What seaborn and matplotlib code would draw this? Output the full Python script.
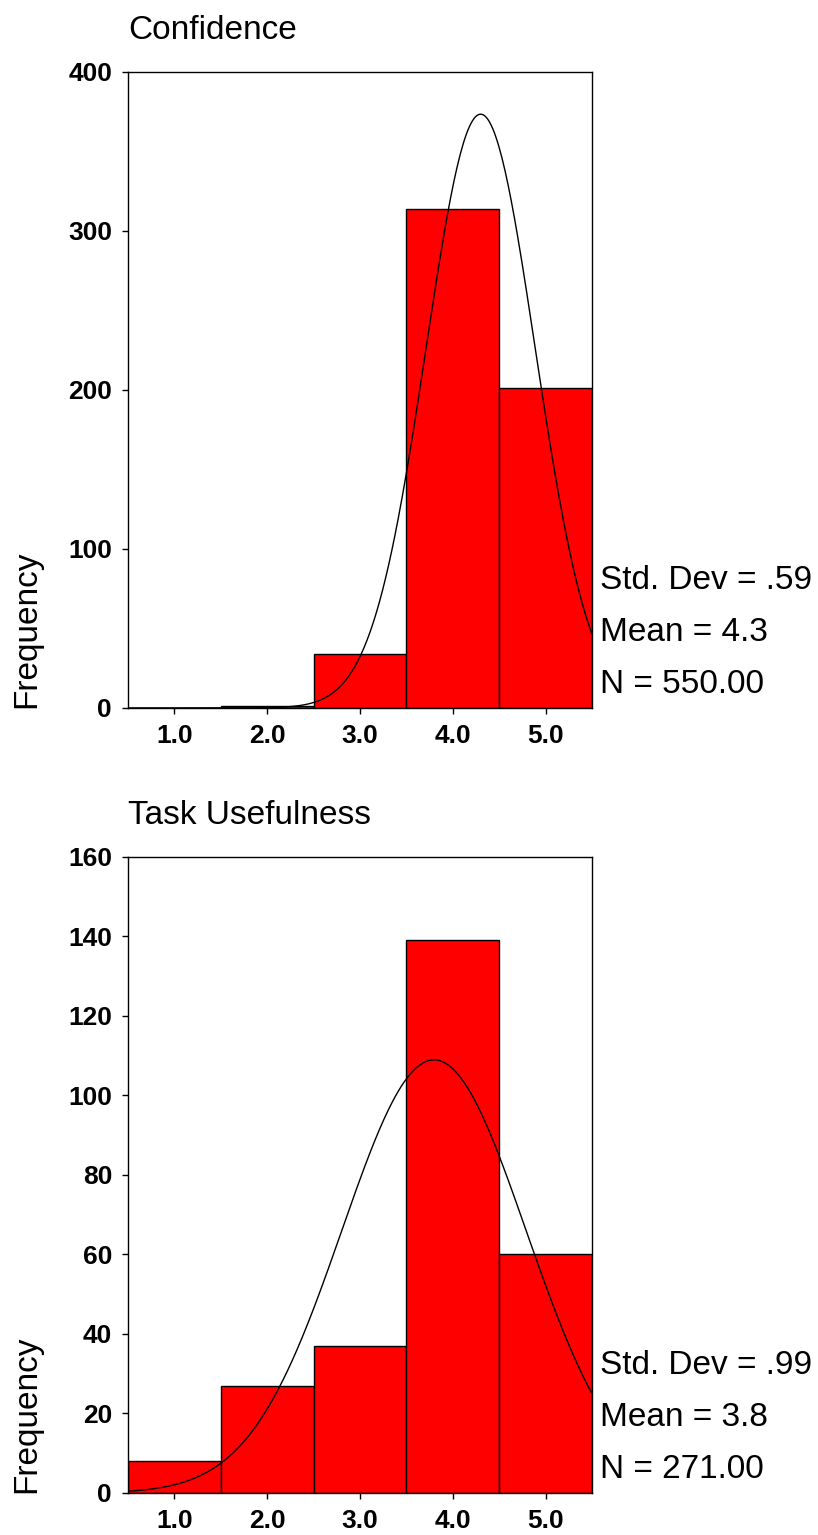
"""
Frequency histograms with normal curve - Confidence / Task Usefulness
"""

import numpy as np
import pandas as pd
import matplotlib
matplotlib.use('Agg')
import matplotlib.pyplot as plt
import seaborn as sns

# scale points and counts
scores = [1, 2, 3, 4, 5]
confidence_counts = [0, 1, 34, 314, 201]
usefulness_counts = [8, 27, 37, 139, 60]

titles = ['Confidence', 'Task Usefulness']
stat_lines = [['Std. Dev = .59', 'Mean = 4.3', 'N = 550.00'],
              ['Std. Dev = .99', 'Mean = 3.8', 'N = 271.00']]
y_ticks = [[0, 100, 200, 300, 400], [0, 20, 40, 60, 80, 100, 120, 140, 160]]
x_tick_labels = ['1.0', '2.0', '3.0', '4.0', '5.0']

sns.set_style('ticks')
plt.rcParams['font.family'] = ['Liberation Sans', 'DejaVu Sans']
plt.rcParams['text.color'] = 'black'
plt.rcParams['axes.labelcolor'] = 'black'

fig = plt.figure(figsize=(8.18, 15.35), dpi=100)
ax_top = fig.add_axes([0.1565, 0.5388, 0.5672, 0.4143])
ax_bot = fig.add_axes([0.1565, 0.0274, 0.5672, 0.4143])

for ax, counts, title, lines, yt in zip([ax_top, ax_bot],
                                        [confidence_counts, usefulness_counts],
                                        titles, stat_lines, y_ticks):
    df = pd.DataFrame({'score': scores, 'count': counts})
    sns.histplot(data=df, x='score', weights='count', discrete=True,
                 color='#ff0000', edgecolor='black', linewidth=1.0,
                 alpha=1, ax=ax)

    # fitted normal curve scaled to counts (bin width 1)
    vals = np.repeat(scores, counts)
    mu, sd = vals.mean(), vals.std(ddof=1)
    xs = np.linspace(0.5, 5.5, 300)
    ys = len(vals) / (sd * np.sqrt(2 * np.pi)) * np.exp(-0.5 * ((xs - mu) / sd) ** 2)
    sns.lineplot(x=xs, y=ys, color='black', linewidth=1.0, ax=ax)

    ax.set_xlim(0.5, 5.5)
    ax.set_ylim(yt[0], yt[-1])
    ax.set_xticks(scores)
    ax.set_xticklabels(x_tick_labels)
    ax.set_yticks(yt)
    for s in ax.spines.values():
        s.set_visible(True)
        s.set_linewidth(1.0)
        s.set_color('black')
    ax.tick_params(direction='out', length=4.5, width=1.0, labelsize=19,
                   colors='black', pad=7)
    for lab in ax.get_xticklabels() + ax.get_yticklabels():
        lab.set_fontweight('bold')

    ax.set_xlabel('')
    ax.set_ylabel('Frequency', fontsize=24, loc='bottom')
    ax.yaxis.set_label_coords(-0.185, 0.0)
    ax.set_title(title, loc='left', fontsize=24, pad=24)

    for i, txt in enumerate(lines):
        ax.text(1.017, 0.201 - i * 0.082, txt, transform=ax.transAxes,
                fontsize=24, va='center', ha='left', clip_on=False)

fig.savefig('out.png', dpi=100, facecolor='white')
